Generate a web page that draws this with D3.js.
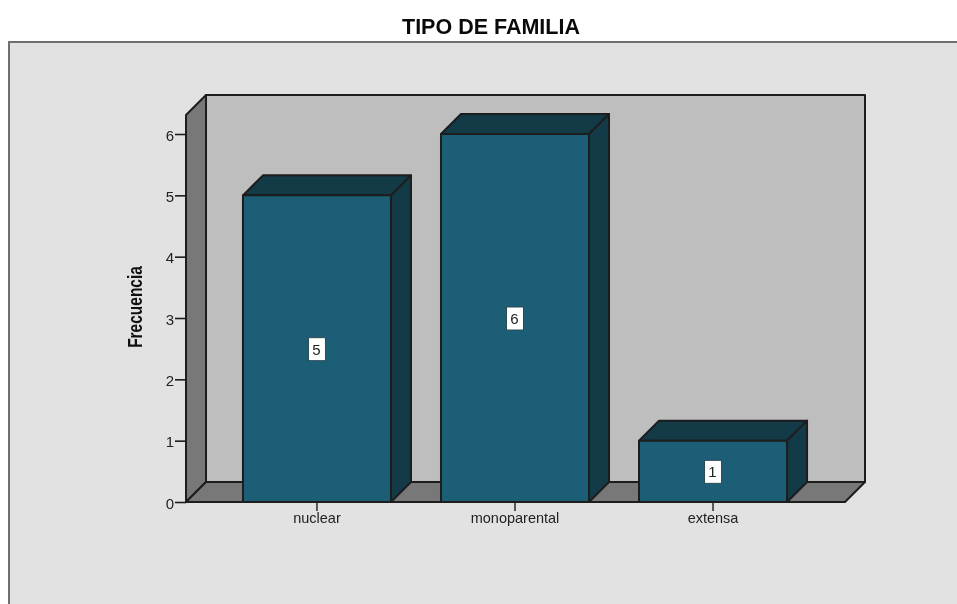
<!DOCTYPE html>
<html><head><meta charset="utf-8">
<script src="https://cdn.jsdelivr.net/npm/d3@7/dist/d3.min.js"></script>
<style>html,body{margin:0;padding:0;background:#fff}svg{display:block;filter:blur(.35px)}text{font-family:"Liberation Sans",Arial,sans-serif}</style>
</head><body><svg id="c" width="957" height="604"></svg>
<script>
const categories = ["nuclear","monoparental","extensa"];
const values = [5,6,1];
const yTicks = [0,1,2,3,4,5,6];
const title = "TIPO DE FAMILIA";
const yLabel = "Frecuencia";

const svg = d3.select("#c");
const D = 20; // 3D depth
const x = d3.scaleBand().domain(categories).range([218,812]).paddingInner(0.2525).paddingOuter(0.126);
const y = d3.scaleLinear().domain([0,6]).range([502,134]);
const left = 186, right = 845, bottom = y(0), top3d = y(6.31);
const ink = "#1d1d1d";

svg.append("rect").attr("x",9).attr("y",42).attr("width",960).attr("height",580)
  .attr("fill","#e2e2e2").attr("stroke","#6f6f6f").attr("stroke-width",2);

svg.append("text").attr("x",491).attr("y",33.5).attr("text-anchor","middle")
  .attr("font-size",21.5).attr("font-weight","bold").attr("fill","#0a0a0a").text(title);

const poly = (pts,fill,sw=2,stroke=ink)=>svg.append("polygon").attr("points",pts.map(p=>p.join(",")).join(" "))
  .attr("fill",fill).attr("stroke",stroke).attr("stroke-width",sw).attr("stroke-linejoin","round");

// back wall, side wall, floor
poly([[left+D,top3d-D],[right+D,top3d-D],[right+D,bottom-D],[left+D,bottom-D]],"#bebebe");
poly([[left,top3d],[left+D,top3d-D],[left+D,bottom-D],[left,bottom]],"#787878");
poly([[left,bottom],[left+D,bottom-D],[right+D,bottom-D],[right,bottom]],"#787878");

// axes
const gy = svg.append("g").attr("transform",`translate(${left},0)`)
  .call(d3.axisLeft(y).tickValues(yTicks).tickSize(11).tickPadding(1).tickFormat(d3.format("d")));
gy.select(".domain").remove();
gy.selectAll("line").attr("stroke",ink).attr("stroke-width",1.6);
gy.selectAll("text").attr("font-size",15).attr("fill","#222").attr("font-family","Liberation Sans, Arial, sans-serif").attr("dy","0.42em");

const gx = svg.append("g").attr("transform",`translate(0,${bottom})`)
  .call(d3.axisBottom(x).tickSize(9).tickPadding(2));
gx.select(".domain").remove();
gx.selectAll("line").attr("stroke","#333").attr("stroke-width",1.6);
gx.selectAll("text").attr("font-size",14.5).attr("fill","#222").attr("font-family","Liberation Sans, Arial, sans-serif");

// bars
categories.forEach((c,i)=>{
  const x0=x(c), x1=x0+x.bandwidth(), yt=y(values[i]);
  poly([[x0,yt],[x0+D,yt-D],[x1+D,yt-D],[x1,yt]],"#133a47");
  poly([[x1,yt],[x1+D,yt-D],[x1+D,bottom-D],[x1,bottom]],"#133a47");
  poly([[x0,yt],[x1,yt],[x1,bottom],[x0,bottom]],"#1c5e76");
  const cx=x0+x.bandwidth()/2, cy=y(values[i]/2);
  svg.append("rect").attr("x",cx-8.5).attr("y",cy-11).attr("width",17).attr("height",23)
    .attr("fill","#fff").attr("stroke","#2a4a55").attr("stroke-width",1);
  svg.append("text").attr("x",cx-.5).attr("y",cy+6).attr("text-anchor","middle")
    .attr("font-size",15).attr("fill","#222").text(values[i]);
});

svg.append("text").attr("transform","translate(142,307) rotate(-90) scale(0.86,1.08)").attr("text-anchor","middle")
  .attr("font-size",18).attr("font-weight","bold").attr("fill","#111").text(yLabel);
</script></body></html>
